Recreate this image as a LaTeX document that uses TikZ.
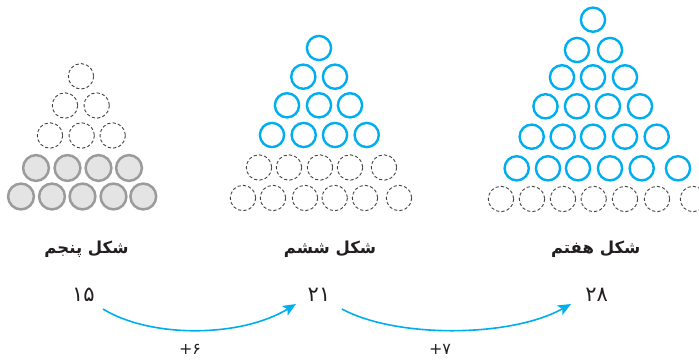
\documentclass[tikz,border=0pt]{standalone}
\usepackage{fontspec}
\newfontfamily\arabicfont[Script=Arabic]{DejaVu Sans}
\TeXXeTstate=1
\usetikzlibrary{arrows.meta}
\definecolor{cyanb}{HTML}{00AEEF}
\definecolor{grayfill}{HTML}{E4E4E5}
\definecolor{grayline}{HTML}{9B9B9B}
\definecolor{txt}{HTML}{231F20}
\tikzset{
  bluec/.style={draw=cyanb, line width=2.4pt},
  dashc/.style={draw=txt!85, line width=0.9pt, dash pattern=on 3.2pt off 2.2pt},
  grayc/.style={draw=grayline, fill=grayfill, line width=2.5pt},
  title/.style={font=\arabicfont\bfseries\fontsize{16.5}{19}\selectfont, text=txt, inner sep=0pt},
  num/.style={font=\arabicfont\fontsize{21}{24}\selectfont, text=txt, inner sep=0pt},
  steplabel/.style={font=\arabicfont\fontsize{16}{18}\selectfont, text=txt, inner sep=0pt},
  arr/.style={draw=cyanb, line width=1.6pt, -{Stealth[length=13pt,width=11pt,inset=3pt]}}
}
\begin{document}
\begin{tikzpicture}[x=1pt,y=-1pt]
\useasboundingbox (0,0) rectangle (699,360);
\clip (0,0) rectangle (699,360);
% ---- figure 5 ----
\foreach \p in {(81,76.3),(65,105.5),(96.7,105.5),(50,135.5),(81.7,135.5),(112.7,135.5)}
  \draw[dashc] \p circle[radius=12.7];
\foreach \p in {(36,168),(67.5,168),(98.5,168),(129,168),(21,196.5),(52,196.5),(82.5,196.5),(113.5,196.5),(143.3,196.5)}
  \draw[grayc] \p circle[radius=12.9];
% ---- figure 6 ----
\foreach \p in {(319,48),(303.3,76.7),(335,76.7),(287,105.3),(319,105.3),(350,105.3),(272,135),(303.7,135),(335,135),(366.7,135)}
  \draw[bluec] \p circle[radius=12.1];
\foreach \p in {(259,167.5),(289,167.5),(320,167.5),(350,167.5),(384,167.5),(243,198),(273,198),(305,198),(334.7,198),(365,198),(399,198)}
  \draw[dashc] \p circle[radius=12.7];
% ---- figure 7 ----
\foreach \p in {(593,19.7),(577,50),(610,50),(562,77.3),(593,77.3),(625,77.3),(545.5,106.3),(577,106.3),(608,106.3),(640,106.3),(531.7,136.7),(562.7,136.7),(593,136.7),(625,136.7),(656.7,136.7),(516.7,168.3),(548,168.3),(578,168.3),(610,168.3),(641.7,168.3),(678,168.3)}
  \draw[bluec] \p circle[radius=12.1];
\foreach \p in {(501,199),(532,199),(563,199),(593.7,199),(625,199),(657,199),(693,199)}
  \draw[dashc] \p circle[radius=12.7];
% ---- titles ----
\node[title] (t5) at (86.5,249) {\beginR شکل پنجم\endR};
\node[title] (t6) at (330,249) {\beginR شکل ششم\endR};
\node[title] (t7) at (595.7,249) {\beginR شکل هفتم\endR};
% ---- numbers ----
\node[num] (n5) at (83.3,295) {۱۵};
\node[num] (n6) at (319,295) {۲۱};
\node[num] (n7) at (596.7,295) {۲۸};
% ---- arrows ----
\coordinate (a1s) at (103,309);
\coordinate (a1e) at (296,304);
\coordinate (a2s) at (342,309);
\coordinate (a2e) at (571,304);
\draw[arr] (a1s) .. controls (150,338) and (240,338) .. (a1e);
\draw[arr] (a2s) .. controls (395,338) and (510,338) .. (a2e);
\node[steplabel] (l1) at (190,349) {\mbox{+}\mbox{۶}};
\node[steplabel] (l2) at (440,349) {\mbox{+}\mbox{۷}};
\end{tikzpicture}
\end{document}
